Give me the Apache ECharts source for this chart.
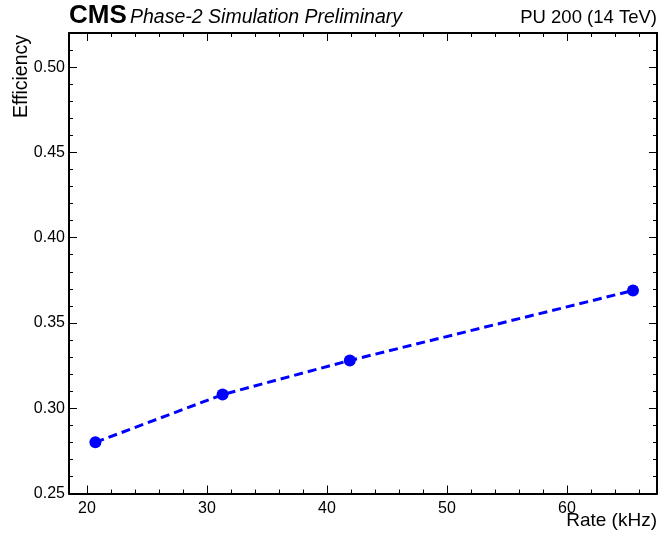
<!DOCTYPE html>
<html lang="en">
<head>
    <meta charset="UTF-8">
    <title>Efficiency vs rate</title>
    <style>
        html, body { margin: 0; padding: 0; background: #fff; }
        #main { width: 661px; height: 535px; }
    </style>
</head>
<body>
<div id="main"></div>
<script src="https://cdn.jsdelivr.net/npm/echarts@6/dist/echarts.min.js"></script>
<script>
    // data
    var rate = [20.7, 31.3, 41.9, 65.5];
    var efficiency = [0.280, 0.308, 0.328, 0.369];

    // axis ranges and ticks
    var xRange = [18.5, 67.5];
    var yRange = [0.25, 0.52];
    var xMajor = [20, 30, 40, 50, 60];
    var xMinor = [20, 22, 24, 26, 28, 30, 32, 34, 36, 38, 40, 42, 44, 46, 48, 50, 52, 54, 56, 58, 60, 62, 64, 66];
    var yMajor = [0.25, 0.30, 0.35, 0.40, 0.45, 0.50];
    var yMinor = [0.26, 0.27, 0.28, 0.29, 0.31, 0.32, 0.33, 0.34, 0.36, 0.37, 0.38, 0.39,
                  0.41, 0.42, 0.43, 0.44, 0.46, 0.47, 0.48, 0.49, 0.51];

    var font = 'Liberation Sans, Arial, Helvetica, sans-serif';

    function axis(position, range, ticks, len, labels) {
        return {
            type: 'value',
            position: position,
            min: range[0],
            max: range[1],
            axisLine: { show: labels !== null, lineStyle: { color: '#000', width: 2 } },
            axisTick: {
                show: true, inside: true, length: len,
                customValues: ticks,
                lineStyle: { color: '#000', width: 1 }
            },
            axisLabel: labels ? {
                show: true,
                customValues: labels.values,
                formatter: labels.fmt,
                color: '#000',
                fontSize: 16,
                fontFamily: font,
                margin: labels.margin
            } : { show: false },
            splitLine: { show: false }
        };
    }

    var chart = echarts.init(document.getElementById('main'));
    var option = {
        backgroundColor: '#fff',
        animation: false,
        grid: { left: 69, right: 4, top: 33, bottom: 41.5, containLabel: false },
        xAxis: [
            axis('bottom', xRange, xMajor, 8, { values: xMajor, fmt: function (v) { return v; }, margin: 7 }),
            axis('bottom', xRange, xMinor, 4, null),
            axis('top', xRange, xMajor, 8, { values: [], fmt: '', margin: 0 }),
            axis('top', xRange, xMinor, 4, null)
        ],
        yAxis: [
            axis('left', yRange, yMajor, 8, { values: yMajor, fmt: function (v) { return v.toFixed(2); }, margin: 4 }),
            axis('left', yRange, yMinor, 4, null),
            axis('right', yRange, yMajor, 8, { values: [], fmt: '', margin: 0 }),
            axis('right', yRange, yMinor, 4, null)
        ],
        graphic: [
            { type: 'text', left: 69, top: 3,
              style: { text: 'CMS', fontSize: 26, fontWeight: 'bold', fontFamily: font, fill: '#000' } },
            { type: 'text', left: 130, top: 8,
              style: { text: 'Phase-2 Simulation Preliminary', fontSize: 19.5, fontStyle: 'italic', fontFamily: font, fill: '#000' } },
            { type: 'text', right: 4, top: 8,
              style: { text: 'PU 200 (14 TeV)', fontSize: 18.5, fontFamily: font, fill: '#000' } },
            { type: 'text', right: 4, top: 511,
              style: { text: 'Rate (kHz)', fontSize: 19, fontFamily: font, fill: '#000' } },
            { type: 'text', x: 22, y: 35, rotation: Math.PI / 2,
              style: { text: 'Efficiency', fontSize: 19.5, fontFamily: font, fill: '#000',
                       align: 'right', verticalAlign: 'middle' } }
        ],
        series: [
            {
                type: 'line',
                xAxisIndex: 0,
                yAxisIndex: 0,
                data: rate.map(function (r, i) { return [r, efficiency[i]]; }),
                symbol: 'circle',
                symbolSize: 12,
                itemStyle: { color: '#0000ff' },
                lineStyle: { color: '#0000ff', width: 3, type: [9, 5] }
            }
        ]
    };
    chart.setOption(option);
</script>
</body>
</html>
